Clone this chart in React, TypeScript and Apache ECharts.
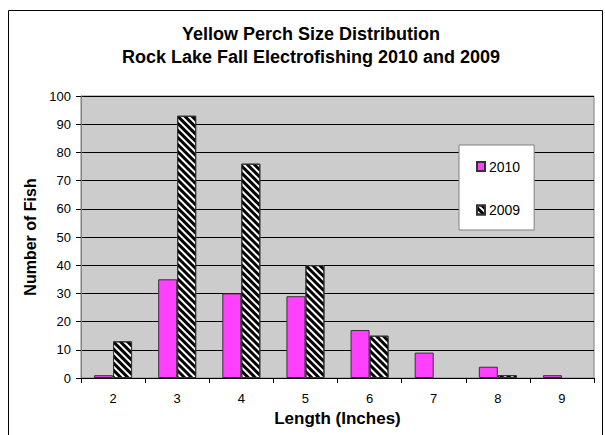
import React, { useEffect, useRef } from "react";
import * as echarts from "echarts";

const categories = ["2", "3", "4", "5", "6", "7", "8", "9"];
const values2010 = [1, 35, 30, 29, 17, 9, 4, 1];
const values2009 = [13, 93, 76, 40, 15, 0, 1, 0];
const yTicks = { min: 0, max: 100, interval: 10 };
const titleLines = ["Yellow Perch Size Distribution", "Rock Lake Fall Electrofishing 2010 and 2009"];

const FONT = "'Liberation Sans', Arial, sans-serif";

const toBarData = (vals: number[]) =>
  vals.map((v) => (v === 0 ? { value: v, itemStyle: { borderWidth: 0 } } : v));

export default function App() {
  const ref = useRef<HTMLDivElement>(null);
  useEffect(() => {
    if (!ref.current) return;
    const chart = echarts.init(ref.current, undefined, { renderer: "svg" });
    chart.setOption({
      animation: false,
      backgroundColor: "#ffffff",
      textStyle: { fontFamily: FONT, color: "#000" },
      title: {
        text: titleLines.join("\n"),
        left: 306,
        textAlign: "center",
        top: 17,
        textStyle: { fontFamily: FONT, fontSize: 18, fontWeight: "bold", color: "#000", lineHeight: 23 },
      },
      legend: {
        orient: "vertical",
        left: 459,
        top: 145,
        padding: [14.5, 14, 13, 17],
        itemGap: 29.5,
        itemWidth: 8,
        itemHeight: 9,
        icon: "rect",
        backgroundColor: "#ffffff",
        borderColor: "#808080",
        borderWidth: 1,
        textStyle: { fontFamily: FONT, fontSize: 14, color: "#000", padding: [0, 0, 0, -1] },
        data: ["2010", "2009"],
      },
      grid: {
        left: 81,
        right: 11,
        top: 96,
        bottom: 57,
        show: true,
        backgroundColor: "#CCCCCC",
        borderColor: "#808080",
        borderWidth: 1,
      },
      xAxis: {
        type: "category",
        data: categories,
        name: "Length (Inches)",
        nameLocation: "middle",
        nameGap: 27,
        nameTextStyle: { fontFamily: FONT, fontSize: 17, fontWeight: "bold", color: "#000" },
        axisLine: { lineStyle: { color: "#000", width: 1 } },
        axisTick: { show: true, length: 5, lineStyle: { color: "#000" } },
        axisLabel: { fontFamily: FONT, fontSize: 13, color: "#000", margin: 14 },
      },
      yAxis: {
        type: "value",
        min: yTicks.min,
        max: yTicks.max,
        interval: yTicks.interval,
        name: "Number of Fish",
        nameLocation: "middle",
        nameGap: 39,
        nameTextStyle: { fontFamily: FONT, fontSize: 16, fontWeight: "bold", color: "#000" },
        axisLine: { show: true, lineStyle: { color: "#808080", width: 1 } },
        axisTick: { show: true, length: 5, lineStyle: { color: "#000" } },
        axisLabel: { fontFamily: FONT, fontSize: 13, color: "#000", margin: 10 },
        splitLine: { show: true, lineStyle: { color: "#000", width: 1 } },
      },
      series: [
        {
          name: "2010",
          type: "bar",
          data: toBarData(values2010),
          barWidth: 19,
          barGap: "0%",
          itemStyle: { color: "#FF40FF", borderColor: "#333", borderWidth: 1 },
        },
        {
          name: "2009",
          type: "bar",
          data: toBarData(values2009),
          barWidth: 19,
          itemStyle: {
            color: "#ffffff",
            borderColor: "#333",
            borderWidth: 1,
            decal: {
              symbol: "rect",
              symbolSize: 1,
              dashArrayX: [1, 0],
              dashArrayY: [3, 2],
              rotation: Math.PI / 4,
              color: "#000",
              backgroundColor: "#fff",
            },
          },
        },
      ],
      graphic: [
        {
          type: "rect",
          shape: { x: 8.5, y: 10.5, width: 594, height: 500 },
          style: { fill: "transparent", stroke: "#000", lineWidth: 1 },
          silent: true,
        },
      ],
    });
    return () => chart.dispose();
  }, []);
  return (
    <div
      ref={ref}
      style={{ position: "fixed", left: 0, top: 0, width: 605, height: 435 }}
    />
  );
}
